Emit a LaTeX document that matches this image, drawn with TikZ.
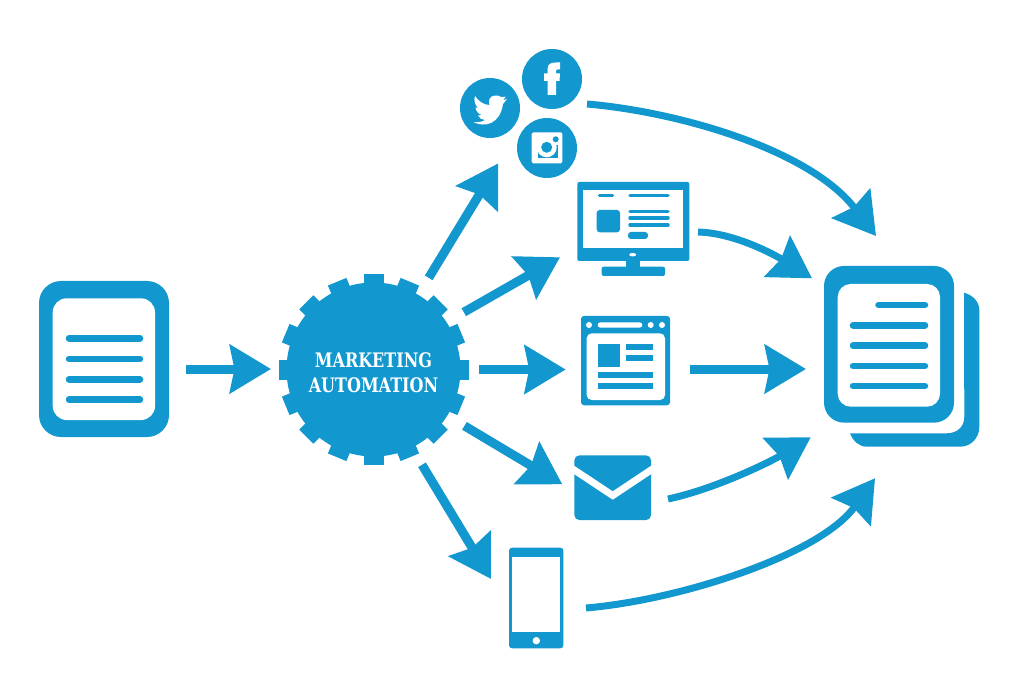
\documentclass[tikz,border=0pt]{standalone}
\usepackage{amsmath}
\usepackage{fontspec}
\usepackage{tikz}
\usetikzlibrary{arrows.meta}
\newfontfamily\gearfont{DejaVu Serif}[FakeStretch=0.80]

\definecolor{mablue}{RGB}{18,152,206}

\begin{document}
\begin{tikzpicture}[x=1pt, y=-1pt,
	every path/.style={line cap=butt},
	icon/.style={fill=mablue, inner sep=0pt, outer sep=0pt, rectangle},
	round/.style={circle, fill=mablue, inner sep=0pt, outer sep=0pt, minimum size=60pt},
	flow/.style={draw=mablue, line width=9pt, -{Stealth[length=41pt, width=48pt, inset=4.5pt]}},
	spoke/.style={flow, shorten <=20pt},
	bowed/.style={flow, line width=7pt},
	textline/.style={draw=mablue, line width=6.5pt, line cap=round}]
			\fill[white] (0,0) rectangle (1024,700);
			\useasboundingbox (0,0) rectangle (1024,700);
			
			\node[icon, minimum width=130pt, minimum height=156pt, rounded corners=22pt] (doc) at (104,359){};
			\fill[white, rounded corners=14pt] (52.7,298.3) rectangle (155,420);
			\foreach \y in {338.3,359,379.3,399.7}
				\draw[textline] (69,\y) -- (140,\y);
			
			\foreach \a in {0,22.5,...,337.5}
				\fill[mablue, rotate around={\a:(373.5,369.5)}] (363.5,274.5) rectangle (383.5,300);
			\node[circle, fill=mablue, inner sep=0pt, outer sep=0pt, minimum size=174pt] (gear) at (373.5,369.5){};
			\node[text=white, align=center, font=\gearfont\bfseries\fontsize{20}{24.7}\selectfont] (gearlabel) at (373.5,373)
				{MARKETING\\AUTOMATION};
			
			\node[round] (twitter) at (490,108){};
			\node[round] (facebook) at (552,79){};
			\node[round] (instagram) at (547,148){};
			
			\fill[white] (505.7,96.7) -- (501,97) .. controls (498,94.5) and (491,95) .. (489.5,99) .. controls (489,101) and (489,103) .. (489.3,105)
				.. controls (484,105) and (478,101) .. (475,96) .. controls (473.5,100) and (475,105) .. (478,108) -- (475.5,107.5)
				.. controls (476,111) and (478,114) .. (482,115) -- (478,115.5) .. controls (479,118) and (482,120) .. (485,120)
				.. controls (482,122) and (478,122.5) .. (473.3,122) .. controls (485,128) and (500,124) .. (503,104) -- (507,99) -- (503,100.5) -- cycle;
			\fill[white] (547.5,95) -- (547.5,81) -- (544,81) -- (544,73.5) -- (547.5,73.5) -- (547.5,69) .. controls (547.5,64) and (551,62.5) .. (556,62.5)
				-- (560,62.5) -- (560,69.5) -- (557.5,69.5) .. controls (556,69.5) and (556,70.5) .. (556,71) -- (556,73.5) -- (560,73.5) -- (559.5,81) -- (556,81) -- (556,95) -- cycle;
			\fill[white, rounded corners=1.5pt] (531.7,132.3) rectangle (562.3,163.3);
			\fill[mablue] (537.7,145) rectangle (557.7,158.3);
			\fill[white] (546.7,147.3) circle (10);
			\fill[mablue] (546.7,147.3) circle (5.5);
			\fill[mablue] (555.7,139.3) circle (3);
			
			\node[icon, minimum width=112pt, minimum height=79pt, rounded corners=2pt] (monitor) at (633.3,221.5){};
			\fill[white] (583.3,190) rectangle (682.7,248.3);
			\fill[white] (632.7,254.7) ellipse (3.5 and 1.7);
			\fill[mablue] (626,261) rectangle (640,267);
			\fill[mablue, rounded corners=2pt] (601.7,266.7) rectangle (665,276);
			\fill[mablue, rounded corners=3pt] (596.7,210) rectangle (620,232.3);
			\fill[mablue, rounded corners=3pt] (628,232) rectangle (648,239);
			\draw[mablue, line width=3.5pt, line cap=round] (599.5,195.7) -- (612.5,195.7);
			\foreach \y in {195.7,211.7,218,225}
				\draw[mablue, line width=3.5pt, line cap=round] (630,\y) -- (668,\y);
			
			\node[icon, minimum width=89pt, minimum height=89.3pt, rounded corners=3pt] (browser) at (625.5,360.6){};
			\fill[white, rounded corners=5pt] (586.7,333.3) rectangle (665,400);
			\fill[white, rounded corners=2.7pt] (597.7,322.3) rectangle (642.3,327.7);
			\foreach \x in {589,650.7,662}
				\fill[white] (\x,325) circle (3);
			\fill[mablue] (597.7,344.3) rectangle (620,366.7);
			\fill[mablue] (625.7,344.3) rectangle (653.3,350);
			\fill[mablue] (625.7,355.3) rectangle (653.3,361.3);
			\fill[mablue] (597.7,372) rectangle (653.3,377.7);
			\fill[mablue] (597.7,383.3) rectangle (653.3,389);
			
			\node[icon, minimum width=76.7pt, minimum height=64.7pt, rounded corners=5pt] (mail) at (612.7,487.7){};
			\draw[white, line width=7pt, miter limit=10] (572,468.5) -- (612.7,495.5) -- (653.3,468.5);
			
			\node[icon, minimum width=54.3pt, minimum height=100.6pt, rounded corners=3pt] (phone) at (536.2,598){};
			\fill[white] (512.3,556.7) rectangle (560,632.3);
			\fill[white] (536.3,640.7) circle (3.7);
			
			\fill[mablue] (964,292.7) .. controls (973,295) and (979.3,302) .. (979.3,310) -- (979.3,426.7) .. controls (979.3,438) and (971,446.7) .. (960,446.7)
				-- (866.7,446.7) .. controls (859,446.7) and (853,441) .. (850,433.3) -- (946.7,433.3) .. controls (957,433.3) and (964.3,427) .. (964.3,416.7) -- cycle;
			\node[icon, minimum width=130pt, minimum height=156.7pt, rounded corners=20pt] (pages) at (889,344.3){};
			\fill[white, rounded corners=13pt] (837.7,284) rectangle (940,406.7);
			\draw[textline] (878.5,305) -- (925,305);
			\foreach \y in {325.3,345.7,366,386}
				\draw[textline] (853,\y) -- (925,\y);
			
			\coordinate (fromDoc) at (186,369);
			\coordinate (toGear) at (271,369);
			\coordinate (toSocial) at (498.3,163.3);
			\coordinate (toMonitor) at (560,257.3);
			\coordinate (toBrowser) at (565.7,369.5);
			\coordinate (toMail) at (562.3,484.3);
			\coordinate (toPhone) at (491,579);
			
			\coordinate (fromSocial) at (587,104);
			\coordinate (fromMonitor) at (698,232);
			\coordinate (fromBrowser) at (690,369);
			\coordinate (fromMail) at (668,499);
			\coordinate (fromPhone) at (586,608);
			\coordinate (pagesA) at (876,236);
			\coordinate (pagesB) at (812,278.3);
			\coordinate (pagesC) at (806,369);
			\coordinate (pagesD) at (810.7,437.3);
			\coordinate (pagesE) at (875,478.3);
			
			\path[flow] (fromDoc) -- (toGear);
			\path[spoke] (gear.59) -- (toSocial);
			\path[spoke] (gear.33) -- (toMonitor);
			\path[spoke, shorten <=18pt] (gear.0) -- (toBrowser);
			\path[spoke] (gear.-32) -- (toMail);
			\path[spoke] (gear.-64) -- (toPhone);
			
			\path[bowed] (fromSocial) .. controls (680,112) and (810,150) .. (pagesA);
			\path[bowed] (fromMonitor) .. controls (735,233) and (775,255) .. (pagesB);
			\path[flow] (fromBrowser) -- (pagesC);
			\path[bowed] (fromMail) .. controls (715,489) and (770,462) .. (pagesD);
			\path[bowed] (fromPhone) .. controls (680,600) and (820,555) .. (pagesE);
			\end{tikzpicture}
\end{document}
